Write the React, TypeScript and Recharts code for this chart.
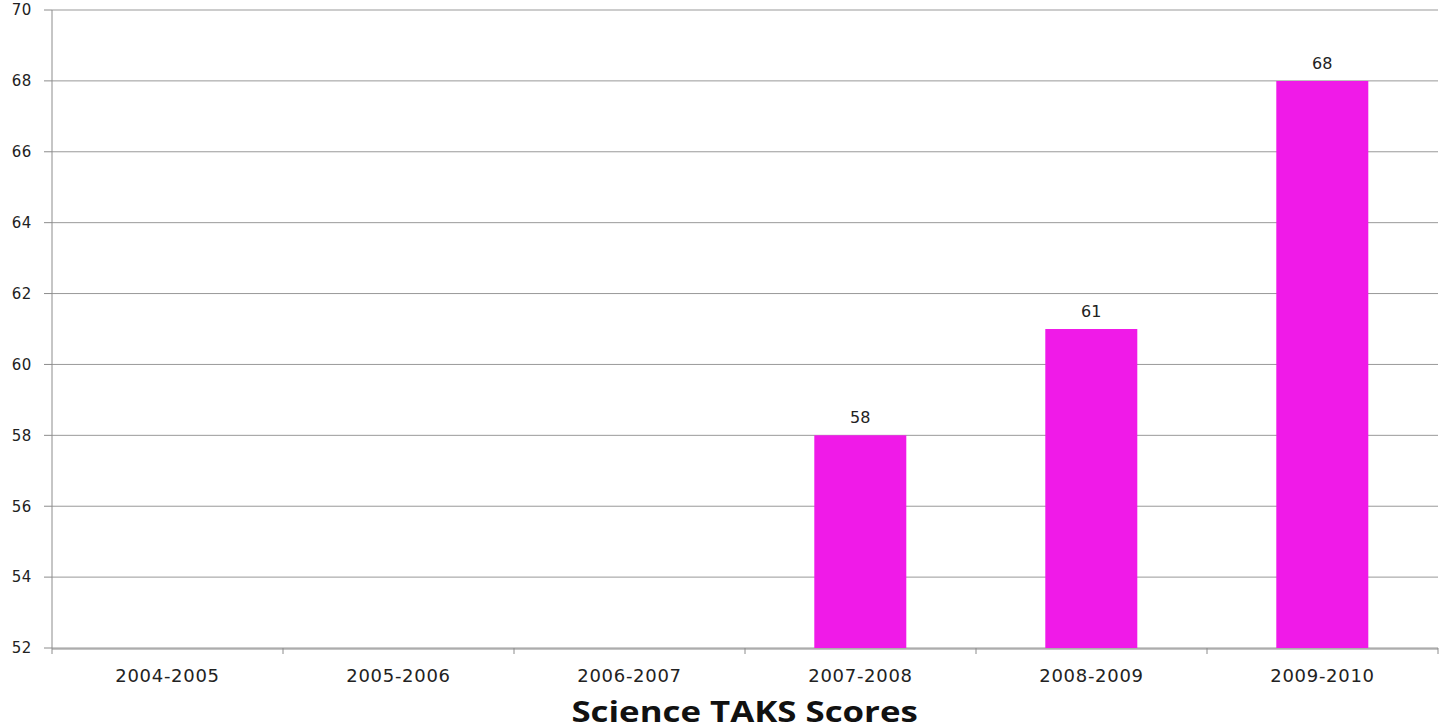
import React from "react";
import { BarChart, Bar, XAxis, YAxis, CartesianGrid, LabelList } from "recharts";

const years = ["2004-2005", "2005-2006", "2006-2007", "2007-2008", "2008-2009", "2009-2010"];
const scores: (number | null)[] = [null, null, null, 58, 61, 68];
const yTicks = [52, 54, 56, 58, 60, 62, 64, 66, 68, 70];
const edgeTicks = [0, 1, 2, 3, 4, 5, 6];

const data = years.map((year, i) => ({ year, idx: i + 0.5, score: scores[i] }));

const axisGray = "#8c8c8c";
const font = "'DejaVu Sans', Verdana, sans-serif";

const App: React.FC = () => {
  return (
    <div style={{ position: "absolute", left: 0, top: 0, width: 1439, height: 728, background: "#fff" }}>
      <BarChart
        width={1439}
        height={728}
        data={data}
        margin={{ top: 10, right: 1, bottom: 0, left: 0 }}
        barCategoryGap="30%"
      >
        <CartesianGrid xAxisId="b" vertical={false} stroke="#999" strokeWidth={1} />
        <XAxis
          xAxisId="b"
          dataKey="year"
          height={79}
          axisLine={{ stroke: axisGray }}
          tickLine={false}
          tickMargin={14}
          tick={{ fill: "#222", fontSize: 18, fontFamily: font, letterSpacing: 0.7 }}
        />
        {/* ticks between categories */}
        <XAxis
          xAxisId="a"
          type="number"
          dataKey="idx"
          domain={[0, 6]}
          ticks={edgeTicks}
          interval={0}
          height={1}
          axisLine={false}
          tickSize={6}
          tickLine={{ stroke: axisGray }}
          tick={{ fontSize: 1, fill: "transparent" }}
          tickFormatter={() => " "}
        />
        <YAxis
          domain={[52, 70]}
          ticks={yTicks}
          width={52}
          axisLine={{ stroke: axisGray }}
          tickLine={{ stroke: axisGray }}
          tickSize={8}
          tickMargin={12}
          tick={{ fill: "#222", fontSize: 15, fontFamily: font, letterSpacing: 0.6 }}
        />
        <Bar xAxisId="b" dataKey="score" fill="#F01AE8" isAnimationActive={false}>
          <LabelList
            dataKey="score"
            position="top"
            offset={12}
            fill="#222"
            fontSize={16}
            fontFamily={font}
          />
        </Bar>
      </BarChart>
      <div
        style={{
          position: "absolute",
          left: 0,
          width: 1489,
          top: 693,
          textAlign: "center",
          fontFamily: "'Open Sans', sans-serif",
          fontWeight: 700,
          fontSize: 29,
          color: "#111",
          lineHeight: "36px",
          transform: "scaleX(1.2)",
          transformOrigin: "744px 0",
        }}
      >
        Science TAKS Scores
      </div>
    </div>
  );
};

export default App;
